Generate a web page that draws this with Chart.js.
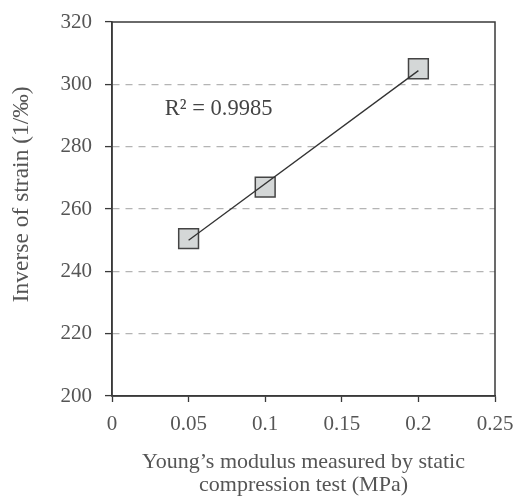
<!DOCTYPE html>
<html>
<head>
<meta charset="utf-8">
<script src="https://cdn.jsdelivr.net/npm/chart.js@4.4.0/dist/chart.umd.min.js"></script>
<style>
  html, body { margin: 0; padding: 0; background: #fff; }
  #wrap { width: 518px; height: 496px; }
</style>
</head>
<body>
<div id="wrap"><canvas id="myChart" width="518" height="496"></canvas></div>
<script>
// data
const modulus = [0.05, 0.1, 0.2];
const inverseStrain = [250.5, 267, 305];
const trendX = [0.05, 0.2];
const trendY = [250.0, 304.4];
const xTicks = [0, 0.05, 0.1, 0.15, 0.2, 0.25];
const yTicks = [200, 220, 240, 260, 280, 300, 320];
const r2Label = 'R² = 0.9985';

const serif = "'Liberation Serif', 'DejaVu Serif', serif";
const textGrey = '#555';
const axisGrey = '#3a3a3a';

// frame + R² text
const framePlugin = {
  id: 'frame',
  afterDraw(chart) {
    const { ctx, chartArea: a, scales } = chart;
    ctx.save();
    ctx.strokeStyle = axisGrey;
    ctx.lineWidth = 1.5;
    ctx.strokeRect(a.left, a.top, a.right - a.left, a.bottom - a.top);
    ctx.fillStyle = '#444';
    ctx.font = '22.5px ' + serif;
    ctx.textBaseline = 'middle';
    ctx.fillText(r2Label, scales.x.getPixelForValue(0.0345), scales.y.getPixelForValue(292));
    ctx.restore();
  }
};

const config = {
  type: 'scatter',
  data: {
    datasets: [{
      label: 'measured',
      data: modulus.map((x, i) => ({ x: x, y: inverseStrain[i] })),
      pointStyle: 'rect',
      pointRadius: 14,
      pointHoverRadius: 14,
      backgroundColor: '#d4d7d7',
      borderColor: '#444',
      borderWidth: 1.5,
      order: 2
    }, {
      label: 'trend',
      type: 'line',
      data: trendX.map((x, i) => ({ x: x, y: trendY[i] })),
      borderColor: '#333',
      borderWidth: 1.3,
      pointRadius: 0,
      fill: false,
      order: 1
    }]
  },
  options: {
    responsive: false,
    animation: false,
    layout: { padding: { top: 22, right: 23, left: 8, bottom: 0 } },
    plugins: {
      legend: { display: false },
      tooltip: { enabled: false }
    },
    scales: {
      x: {
        type: 'linear',
        min: 0,
        max: 0.25,
        afterBuildTicks(scale) { scale.ticks = xTicks.map(v => ({ value: v })); },
        afterFit(scale) {
          scale.height = 100;
          scale.paddingLeft = 0;
          scale.paddingRight = 0;
        },
        ticks: {
          color: textGrey,
          font: { family: serif, size: 21 },
          padding: 10,
          maxRotation: 0,
          callback: v => String(v)
        },
        grid: {
          drawOnChartArea: false,
          tickLength: 6,
          tickColor: axisGrey,
          tickWidth: 1.3
        },
        border: { color: axisGrey, width: 1.5 },
        title: {
          display: true,
          text: ['Young\u2019s modulus measured by static', 'compression test (MPa)'],
          color: textGrey,
          font: { family: serif, size: 22, lineHeight: 1.02 },
          padding: { top: 0, bottom: 0 }
        }
      },
      y: {
        min: 200,
        max: 320,
        afterBuildTicks(scale) { scale.ticks = yTicks.map(v => ({ value: v })); },
        afterFit(scale) {
          scale.width = 104;
          scale.paddingTop = 0;
          scale.paddingBottom = 0;
        },
        ticks: {
          color: textGrey,
          font: { family: serif, size: 21 },
          padding: 13
        },
        grid: {
          color: ctx => (ctx.tick && (ctx.tick.value === 200 || ctx.tick.value === 320)) ? 'rgba(0,0,0,0)' : '#b4b4b4',
          lineWidth: 1.2,
          tickLength: 7,
          tickColor: axisGrey,
          tickWidth: 1.3
        },
        border: { color: axisGrey, width: 1.5, dash: [7, 6] },
        title: {
          display: true,
          text: '\u00a0\u00a0\u00a0\u00a0\u00a0Inverse of strain (1/\u2030)',
          color: textGrey,
          font: { family: serif, size: 23.5 },
          padding: { top: 0, bottom: 10 }
        }
      }
    }
  },
  plugins: [framePlugin]
};

let ctx = document.getElementById('myChart').getContext('2d');
let myChart = new Chart(ctx, config);
</script>
</body>
</html>
